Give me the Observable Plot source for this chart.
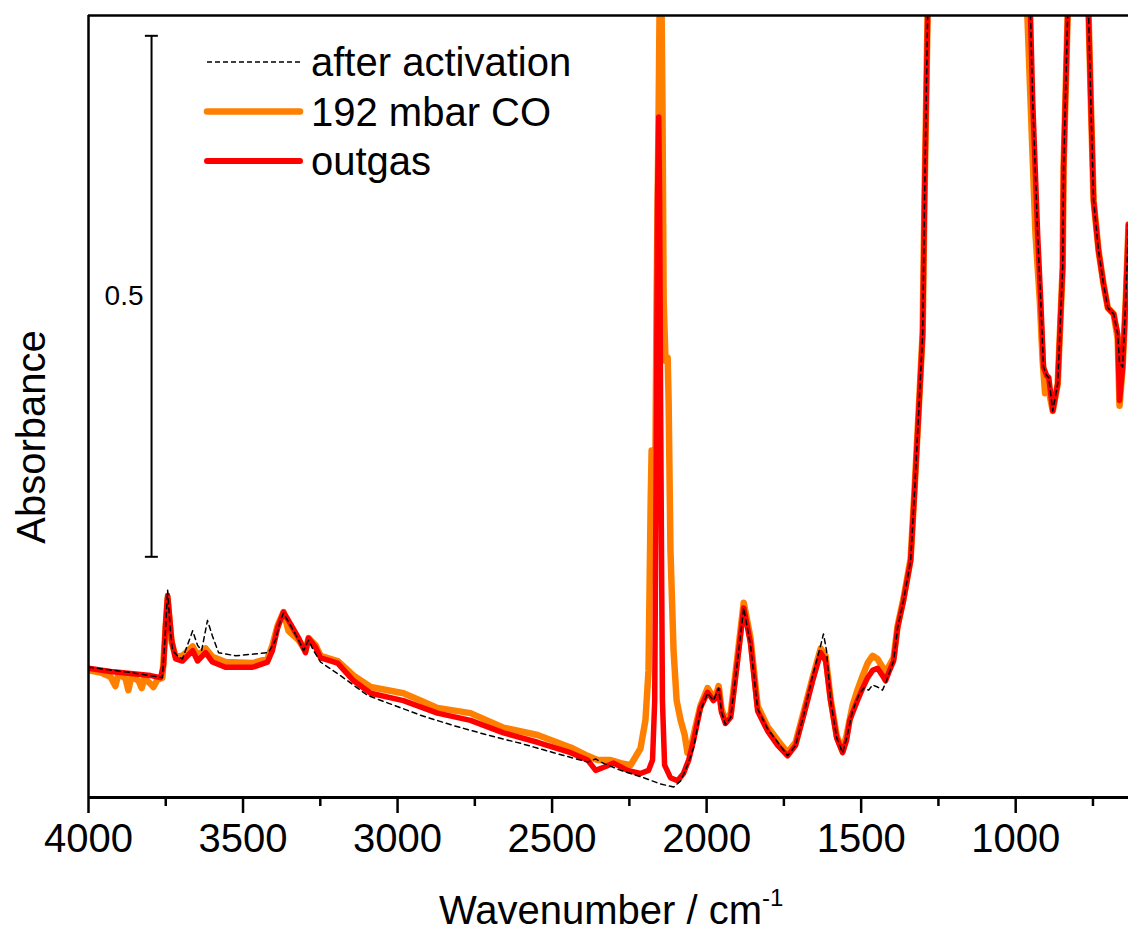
<!DOCTYPE html>
<html>
<head>
<meta charset="utf-8">
<script src="https://cdn.jsdelivr.net/npm/d3@7"></script>
<script src="https://cdn.jsdelivr.net/npm/@observablehq/plot@0.6"></script>
<style>
  html, body { margin: 0; padding: 0; background: #fff; }
  #chart { width: 1128px; height: 936px; }
</style>
</head>
<body>
<div id="chart"></div>
<script>
// ---- data: [wavenumber (cm-1), absorbance] ----
const activation = [
  [4000,0.125],[3864,0.120],[3761,0.115],[3751,0.160],[3744,0.199],[3735,0.160],[3728,0.141],
  [3712,0.136],[3696,0.133],[3680,0.146],[3663,0.160],[3647,0.146],[3634,0.141],[3615,0.170],
  [3599,0.155],[3579,0.139],[3524,0.136],[3418,0.139],[3395,0.151],[3379,0.170],[3369,0.177],
  [3346,0.165],[3320,0.151],[3304,0.141],[3288,0.151],[3272,0.141],[3249,0.130],[3185,0.117],
  [3097,0.098],[2926,0.079],[2819,0.069],[2709,0.060],[2602,0.052],[2495,0.043],[2385,0.034],
  [2369,0.036],[2359,0.037],[2343,0.034],[2278,0.026],[2214,0.020],[2149,0.013],[2107,0.010],
  [2084,0.016],[2062,0.031],[2042,0.048],[2020,0.083],[1997,0.100],[1978,0.093],[1961,0.105],
  [1952,0.082],[1939,0.070],[1922,0.077],[1900,0.131],[1880,0.182],[1858,0.146],[1835,0.085],
  [1803,0.066],[1770,0.053],[1738,0.040],[1712,0.050],[1686,0.079],[1657,0.117],[1631,0.146],
  [1622,0.157],[1612,0.141],[1599,0.093],[1579,0.057],[1560,0.043],[1547,0.057],[1528,0.083],
  [1508,0.098],[1492,0.105],[1476,0.103],[1463,0.108],[1447,0.106],[1431,0.103],[1418,0.112],
  [1395,0.131],[1382,0.163],[1363,0.189],[1340,0.227],[1327,0.295],[1314,0.369],[1301,0.445],
  [1295,0.573],[1285,0.749],[1278,1.0],[1200,1.6],[1000,1.6],[962,1.0],
  [952,0.749],[945,0.669],[929,0.541],[919,0.477],[910,0.413],[900,0.405],[893,0.403],
  [880,0.371],[864,0.397],[848,0.509],[845,0.605],[832,0.749],[826,1.0],[800,1.4],[770,1.0],
  [764,0.749],[757,0.669],[748,0.573],[732,0.525],[716,0.493],[702,0.470],[683,0.464],
  [670,0.445],[664,0.417],[654,0.413],[644,0.477],[638,0.525],[635,0.550]
];

const co192 = [
  [4000,0.122],[3961,0.120],[3929,0.116],[3913,0.107],[3903,0.119],[3880,0.114],[3871,0.103],
  [3861,0.116],[3838,0.112],[3828,0.105],[3819,0.115],[3799,0.109],[3790,0.106],[3777,0.113],
  [3761,0.115],[3751,0.160],[3744,0.191],[3738,0.170],[3731,0.149],[3718,0.135],[3696,0.136],
  [3663,0.145],[3647,0.136],[3621,0.143],[3599,0.135],[3557,0.130],[3469,0.129],[3421,0.133],
  [3405,0.146],[3388,0.165],[3369,0.178],[3353,0.160],[3320,0.151],[3298,0.141],[3288,0.153],
  [3265,0.146],[3249,0.136],[3194,0.131],[3142,0.117],[3087,0.106],[2981,0.100],[2926,0.093],
  [2871,0.086],[2764,0.081],[2657,0.067],[2547,0.060],[2440,0.048],[2385,0.040],[2353,0.036],
  [2311,0.036],[2278,0.033],[2246,0.031],[2214,0.047],[2198,0.074],[2188,0.122],[2181,0.285],
  [2178,0.333],[2175,0.285],[2168,0.227],[2162,0.477],[2155,0.669],[2149,0.861],[2143,0.669],
  [2139,0.477],[2133,0.419],[2126,0.422],[2123,0.381],[2117,0.237],[2107,0.141],[2097,0.093],
  [2084,0.074],[2071,0.060],[2062,0.043],[2052,0.047],[2042,0.060],[2020,0.088],[1997,0.105],
  [1978,0.096],[1968,0.100],[1961,0.107],[1952,0.085],[1939,0.074],[1922,0.081],[1900,0.136],
  [1880,0.187],[1858,0.153],[1835,0.088],[1803,0.068],[1770,0.055],[1738,0.043],[1712,0.053],
  [1686,0.082],[1657,0.115],[1631,0.143],[1615,0.136],[1599,0.095],[1579,0.059],[1560,0.045],
  [1547,0.060],[1528,0.088],[1512,0.103],[1495,0.117],[1479,0.129],[1463,0.136],[1447,0.133],
  [1431,0.125],[1421,0.120],[1408,0.127],[1395,0.134],[1382,0.165],[1363,0.191],[1340,0.229],
  [1327,0.297],[1314,0.371],[1301,0.447],[1295,0.575],[1285,0.751],[1278,1.0],[1200,1.6],
  [1000,1.6],[968,1.0],
  [962,0.749],[952,0.669],[936,0.541],[922,0.477],[913,0.420],[905,0.388],[896,0.395],
  [880,0.371],[864,0.397],[848,0.509],[845,0.605],[832,0.749],[826,1.0],[800,1.4],[770,1.0],
  [764,0.749],[757,0.669],[748,0.573],[732,0.525],[716,0.493],[702,0.470],[683,0.464],
  [670,0.440],[664,0.376],[654,0.413],[644,0.477],[638,0.525],[635,0.550]
];

const outgas = [
  [4000,0.124],[3929,0.121],[3864,0.119],[3799,0.117],[3767,0.115],[3757,0.127],[3751,0.165],
  [3744,0.194],[3738,0.175],[3731,0.151],[3718,0.133],[3696,0.131],[3663,0.141],[3647,0.131],
  [3621,0.139],[3599,0.130],[3557,0.125],[3469,0.125],[3421,0.130],[3405,0.141],[3388,0.163],
  [3369,0.178],[3353,0.170],[3320,0.153],[3298,0.139],[3288,0.153],[3265,0.144],[3249,0.134],
  [3194,0.129],[3142,0.112],[3087,0.100],[2981,0.093],[2871,0.081],[2764,0.074],[2657,0.062],
  [2547,0.053],[2440,0.043],[2385,0.036],[2359,0.026],[2333,0.029],[2301,0.033],[2256,0.026],
  [2214,0.023],[2188,0.026],[2175,0.036],[2168,0.093],[2162,0.381],[2159,0.573],[2155,0.653],
  [2152,0.573],[2149,0.381],[2143,0.093],[2136,0.031],[2117,0.019],[2094,0.016],[2075,0.023],
  [2058,0.036],[2042,0.055],[2020,0.086],[1997,0.101],[1978,0.093],[1968,0.096],[1961,0.103],
  [1952,0.082],[1939,0.071],[1922,0.077],[1900,0.131],[1880,0.182],[1858,0.148],[1835,0.083],
  [1803,0.064],[1770,0.050],[1738,0.040],[1712,0.050],[1686,0.079],[1657,0.112],[1631,0.139],
  [1615,0.131],[1599,0.093],[1579,0.057],[1560,0.043],[1547,0.055],[1537,0.074],[1528,0.081],
  [1512,0.093],[1495,0.105],[1479,0.115],[1463,0.122],[1447,0.124],[1431,0.117],[1421,0.112],
  [1408,0.122],[1395,0.131],[1382,0.163],[1363,0.189],[1340,0.227],[1327,0.295],[1314,0.369],
  [1301,0.445],[1295,0.573],[1285,0.749],[1278,1.0],[1200,1.6],[1000,1.6],[962,1.0],
  [952,0.749],[945,0.669],[929,0.541],[919,0.477],[910,0.413],[900,0.405],[893,0.403],
  [880,0.371],[864,0.397],[848,0.509],[845,0.605],[832,0.749],[826,1.0],[800,1.4],[770,1.0],
  [764,0.749],[757,0.669],[748,0.573],[732,0.525],[716,0.493],[702,0.470],[683,0.464],
  [670,0.445],[664,0.381],[654,0.413],[644,0.477],[638,0.525],[635,0.550]
];

const majorTicks = [4000, 3500, 3000, 2500, 2000, 1500, 1000];
const minorTicks = [3750, 3250, 2750, 2250, 1750, 1250, 750];
const seriesNames = ["after activation", "192 mbar CO", "outgas"];
const seriesColors = ["#000000", "#ff8000", "#ff0000"];
const scaleBar = [{x: 3796, y1: 0.231, y2: 0.731, capFrom: 3816, capTo: 3774, label: "0.5", labelX: 3822}];
const xDomain = [4000, 635];
const yDomain = [0, 0.7505];

const FONT = "'Liberation Sans', Arial, Helvetica, sans-serif";

const plot = Plot.plot({
  width: 1128,
  height: 936,
  marginTop: 15,
  marginBottom: 139,
  marginLeft: 88,
  marginRight: 0,
  style: {fontFamily: FONT, fontSize: "40px", background: "white", color: "black", overflow: "visible"},
  x: {domain: xDomain, label: null},
  y: {domain: yDomain, axis: null},
  marks: [
    Plot.line(co192, {x: d => d[0], y: d => d[1], stroke: seriesColors[1], strokeWidth: 6.5, strokeLinejoin: "round", strokeLinecap: "round", clip: true}),
    Plot.line(outgas, {x: d => d[0], y: d => d[1], stroke: seriesColors[2], strokeWidth: 5.5, strokeLinejoin: "round", strokeLinecap: "round", clip: true}),
    Plot.line(activation, {x: d => d[0], y: d => d[1], stroke: seriesColors[0], strokeWidth: 1.5, strokeDasharray: "5,4", clip: true}),
    // frame
    Plot.ruleX([xDomain[0]], {stroke: "black", strokeWidth: 2.5}),
    Plot.ruleY([yDomain[0]], {stroke: "black", strokeWidth: 3}),
    Plot.ruleY([yDomain[1]], {stroke: "black", strokeWidth: 2.5}),
    // axes
    Plot.axisX({ticks: majorTicks, tickSize: 16, tickPadding: 10, tickFormat: d => String(d), fontSize: 40, strokeWidth: 2.5, label: null}),
    Plot.axisX({ticks: minorTicks, tickSize: 9, tickFormat: () => "", strokeWidth: 2.5, label: null}),
    // absorbance scale bar
    Plot.ruleX(scaleBar, {x: "x", y1: "y1", y2: "y2", stroke: "black", strokeWidth: 2}),
    Plot.ruleY(scaleBar, {y: "y1", x1: "capFrom", x2: "capTo", stroke: "black", strokeWidth: 2}),
    Plot.ruleY(scaleBar, {y: "y2", x1: "capFrom", x2: "capTo", stroke: "black", strokeWidth: 2}),
    Plot.text(scaleBar, {x: "labelX", y: d => (d.y1 + d.y2) / 2, text: "label", textAnchor: "end", fontSize: 28, fill: "black"})
  ]
});

document.getElementById("chart").appendChild(plot);

// legend, axis titles
const svg = d3.select(plot);
const legendRows = seriesNames.map((name, i) => ({name, color: seriesColors[i], y: 62 + i * 49.5, width: [1.5, 6.5, 6][i], dash: i === 0 ? "5,3" : null}));
const lg = svg.append("g").attr("font-family", FONT).attr("font-size", 40).attr("text-anchor", "start");
legendRows.forEach(r => {
  lg.append("line").attr("x1", 207).attr("x2", 300).attr("y1", r.y).attr("y2", r.y)
    .attr("stroke", r.color).attr("stroke-width", r.width).attr("stroke-linecap", r.dash ? "butt" : "round")
    .attr("stroke-dasharray", r.dash);
  lg.append("text").attr("x", 311).attr("y", r.y + 14).attr("fill", "black").attr("text-anchor", "start").text(r.name);
});

const xt = svg.append("text").attr("font-family", FONT).attr("font-size", 40).attr("fill", "black")
  .attr("text-anchor", "start").attr("x", 439).attr("y", 924);
xt.append("tspan").text("Wavenumber / cm");
xt.append("tspan").attr("font-size", 24).attr("dy", -18).text("-1");

svg.append("text").attr("font-family", FONT).attr("font-size", 40).attr("fill", "black")
  .attr("text-anchor", "middle").attr("transform", "translate(45,437) rotate(-90)").text("Absorbance");
</script>
</body>
</html>
